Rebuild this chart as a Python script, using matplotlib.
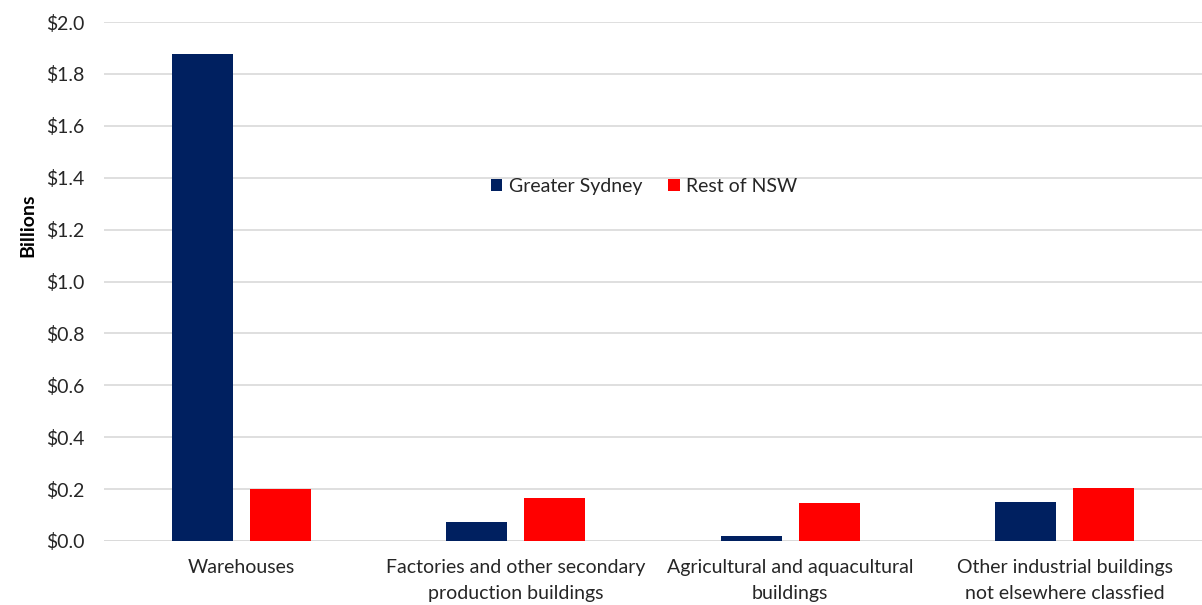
import numpy as np
import matplotlib
matplotlib.use("Agg")
import matplotlib.pyplot as plt

# ---------- DATA ----------
categories = ["Warehouses",
              "Factories and other secondary\nproduction buildings",
              "Agricultural and aquacultural\nbuildings",
              "Other industrial buildings\nnot elsewhere classfied"]
greater_sydney = [1.876, 0.074, 0.018, 0.149]
rest_of_nsw = [0.200, 0.166, 0.145, 0.205]
series_names = ["Greater Sydney", "Rest of NSW"]
yticks = [0.0, 0.2, 0.4, 0.6, 0.8, 1.0, 1.2, 1.4, 1.6, 1.8, 2.0]

# ---------- STYLE ----------
plt.rcParams['font.family'] = ['Lato', 'DejaVu Sans']
navy = "#002060"
red = "#FF0000"
grid_col = "#d9d9d9"
text_col = "#262626"

fig = plt.figure(figsize=(12.02, 6.05), dpi=100)
ax = fig.add_axes([0.0865, 0.1058, 0.9135, 0.8578])

x = np.arange(len(categories))
w = 0.222
off = 0.142
ax.bar(x - off, greater_sydney, w, color=navy, label=series_names[0], zorder=3)
ax.bar(x + off, rest_of_nsw, w, color=red, label=series_names[1], zorder=3)

ax.set_xlim(-0.5, len(categories) - 0.5)
ax.set_ylim(0, 2.0)
ax.set_yticks(yticks)
ax.set_yticklabels([f"${v:.1f}" for v in yticks])
ax.set_xticks(x)
ax.set_xticklabels(categories, linespacing=1.65)
ax.tick_params(axis='both', length=0, labelsize=14, colors=text_col)
ax.tick_params(axis='y', pad=14)
ax.tick_params(axis='x', pad=13)

ax.yaxis.grid(True, color=grid_col, linewidth=1.2, zorder=0)
for s in ax.spines.values():
    s.set_visible(False)
ax.axhline(0, color=grid_col, linewidth=1.2, zorder=1)

ax.set_ylabel("Billions", fontsize=14, color="black", fontweight="bold", labelpad=10)
ax.yaxis.set_label_coords(-0.062, 0.609)

ax.legend(loc='center', bbox_to_anchor=(0.492, 0.683), ncol=2, frameon=False,
          fontsize=14, handlelength=0.6, handleheight=0.6, columnspacing=1.3,
          handletextpad=0.35, labelcolor=text_col)

fig.savefig("out.png", dpi=100)
